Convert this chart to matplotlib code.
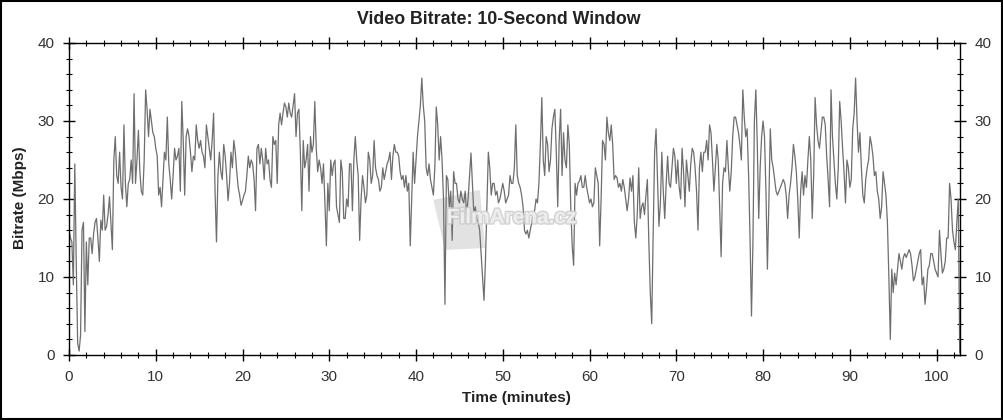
import numpy as np
import matplotlib.pyplot as plt
import matplotlib.patheffects as pe
from matplotlib.patches import Rectangle, Polygon

plt.rcParams['font.family'] = ['Liberation Sans', 'DejaVu Sans']

# bitrate in Mbps, one reading every 10 seconds in chunks
bitrate_00_13 = [16, 15, 14.5, 9, 24.5, 12, 1.5, 0.5, 2.5, 16,
                 17, 3, 14.5, 9, 15, 15, 13, 15.5, 17, 17.5,
                 15, 12, 17.3, 16, 20.5, 16, 16.5, 18, 20.3, 17,
                 13.5, 25, 28, 23, 22, 26, 21.5, 20, 29.5, 22,
                 19, 22, 22.5, 25, 22, 33.5, 22, 25, 28.8, 23.5,
                 21, 20.5, 25, 34, 31.5, 28, 31.5, 30, 28.5, 28,
                 26.5, 25.5, 20.5, 21.5, 19, 22.5, 26, 25, 30.5, 24.5,
                 22.5, 20, 23, 26.5, 25, 25.5, 26.5]
bitrate_13_26 = [21, 32.5, 27.5, 20.5, 28, 29, 28, 26, 23.5, 25.5,
                 25, 29.5, 27.5, 26.5, 27.5, 26, 25.5, 24, 29.5, 28,
                 26.5, 25, 27.5, 31, 21, 14.5, 23, 26, 23.5, 22.5,
                 27, 25.5, 23, 19.8, 22, 26, 24, 27.5, 26, 23.5,
                 21.5, 20.5, 19.2, 19.8, 20.5, 21, 23, 25.5, 24, 25,
                 24.5, 22.5, 18.5, 26.5, 27, 24.5, 26.5, 25, 22.5, 26.5,
                 24.5, 25, 22.5, 21.5, 28, 27, 27.5, 22, 29.5, 31,
                 29.5, 31, 32.3, 31.8, 30.5, 32.3, 31, 30.5, 32]
bitrate_26_39 = [33.5, 28, 31, 31.5, 26, 18.5, 27.5, 24, 25, 27,
                 21, 28, 26, 27, 32.5, 26.5, 23.5, 25, 24, 22,
                 24.5, 19.5, 14, 22, 18.5, 25, 23, 24.5, 25, 19,
                 18, 17, 25, 23.5, 17.5, 17.5, 20, 19, 24.5, 24.5,
                 18.5, 25, 28, 25, 23, 14.7, 20, 23, 21.5, 19.5,
                 20.5, 26, 25, 22, 23, 27.5, 24, 23, 22.5, 21,
                 21.5, 24, 22.5, 23.5, 24.5, 25, 26, 22.5, 25.5, 27,
                 26, 26, 25.5, 23.5, 22.5, 23, 21.5, 23, 21, 22]
bitrate_39_52 = [14, 20, 26, 22, 25, 28, 30, 32, 35.5, 32,
                 30, 24, 23, 24.5, 22.5, 21.5, 20.5, 24, 31.8, 29.5,
                 25, 28, 25, 20, 6.5, 23, 22.5, 19, 21, 14.7,
                 23.5, 22, 22, 20, 19.5, 21, 20, 19.5, 21, 18,
                 20, 23, 25.9, 22, 18, 19, 17.5, 17, 16, 13,
                 10, 7, 12, 19, 26, 24, 20.5, 22, 22, 20.5,
                 21, 19.5, 20, 21, 22, 21, 19.5, 20, 20.5, 23,
                 22, 22, 24, 29.5, 23, 22, 21.5, 20.5, 19]
bitrate_52_66 = [16, 15.5, 16, 15, 16, 17, 18, 18.5, 20, 19.5,
                 22, 27, 33, 25, 23, 28, 27, 23.5, 25, 29,
                 30.5, 31.5, 26, 19, 27.5, 31.5, 23, 28.5, 25, 24,
                 29.5, 27, 19, 14, 11.5, 22, 20.5, 22, 22.3, 23,
                 21.5, 21.5, 23, 21.5, 20.5, 19.5, 20, 19, 19.5, 24,
                 23, 22, 14, 20, 27.5, 27, 25, 30.5, 28.5, 27.5,
                 29.5, 27, 22.5, 23, 22.7, 21.5, 22, 21, 22.5, 21.5,
                 20, 18.5, 20, 22.7, 21, 23, 17, 15, 18, 24]
bitrate_66_79 = [17.5, 19, 19.5, 18, 20.5, 22.5, 14.5, 8, 4, 15.5,
                 26, 29, 22.5, 16.5, 19.5, 26, 21, 17.5, 22, 25.5,
                 22, 21.5, 24, 26.5, 25.5, 22, 25, 21.5, 20, 26.5,
                 23.5, 19, 25, 23, 21, 24.5, 26.5, 26, 24, 21,
                 16, 24, 26, 23.5, 26, 26, 27.5, 25, 29.5, 28.5,
                 25, 21, 24, 27, 25, 19, 12.6, 22, 24, 23.5,
                 27.5, 24, 21, 23.5, 28, 30.5, 30.5, 29.5, 28.5, 27,
                 25, 34, 30.5, 28, 29, 23, 15, 5, 14.5]
bitrate_79_92 = [30, 34, 27, 17.5, 24, 28, 30, 28, 21, 11,
                 19.5, 29, 25, 24, 22.5, 21, 20.5, 21, 21.5, 22,
                 22.5, 22, 20.5, 17.5, 20.5, 22, 24, 27, 25.5, 23.5,
                 20, 15, 21, 23.5, 20.5, 23, 21.5, 25, 28, 25,
                 17.5, 23, 33, 29.5, 27.5, 26.5, 28.5, 30.5, 30.5, 29.5,
                 25.5, 22.5, 19, 34, 28, 25, 22, 20, 24, 32.5,
                 30, 26.5, 23.5, 19.5, 25, 24, 21.5, 22.5, 29, 31,
                 35.5, 30, 26, 28.5, 24, 20.5, 19.5, 22.5, 24, 25]
bitrate_92_end = [28, 27, 25.5, 23, 23.5, 21, 20, 17.5, 19, 23.5,
                  22, 20.5, 17, 10, 2, 11, 8, 10.5, 9, 11,
                  13, 12, 11, 12.5, 13, 12.5, 13, 13.5, 13, 11.5,
                  9.5, 10, 11, 12, 13, 13.5, 9, 10, 6.5, 8.5,
                  11, 11.5, 13, 13, 12, 11, 10.5, 10, 16, 13,
                  10.5, 11, 12, 15, 15, 22, 20, 16, 14.5, 13.5,
                  17, 20, 0.3]

bitrate = np.array(bitrate_00_13 + bitrate_13_26 + bitrate_26_39 + bitrate_39_52
                   + bitrate_52_66 + bitrate_66_79 + bitrate_79_92 + bitrate_92_end)
minutes = np.arange(len(bitrate)) / 6.0

x_ticks = list(range(0, 101, 10))
y_ticks = list(range(0, 41, 10))

fig = plt.figure(figsize=(10.04, 4.2), dpi=100)
ax = fig.add_axes([69/1004, 1-355/420, (960-69)/1004, (355-43)/420])

# faint watermark: clapper shape under the trace, lettering over it
ax.add_patch(Polygon([(0.409, 0.497), (0.461, 0.529), (0.467, 0.343), (0.422, 0.337)],
                     closed=True, transform=ax.transAxes, fc='#e2e2e2', ec='none', zorder=1))
ax.plot(minutes, bitrate, color='#6e6e6e', lw=0.9, zorder=2)
ax.text(0.497, 0.44, 'FilmArena.cz', transform=ax.transAxes, ha='center', va='center',
        fontsize=15, fontweight='bold', color='#f4f4f4', alpha=0.85, zorder=3,
        path_effects=[pe.withStroke(linewidth=2.2, foreground='#cdcdcd')])

ax.set_xlim(0, 102.7)
ax.set_ylim(0, 40)
ax.set_xticks(x_ticks)
ax.set_xticks(np.arange(0, 103, 2), minor=True)
ax.set_yticks(y_ticks)
ax.set_yticks(range(0, 41, 2), minor=True)
ax.tick_params(which='both', direction='inout', top=True, right=True, labelright=True,
               labelsize=11, labelcolor='#333333', pad=6)
ax.tick_params(which='major', length=9, width=1)
ax.tick_params(which='minor', length=4, width=0.8)
for s in ax.spines.values():
    s.set_linewidth(1)

fig.text(0.497, 1-20/420, 'Video Bitrate: 10-Second Window', ha='center', va='center',
         fontsize=12.8, fontweight='bold', color='#222222')
fig.text(516/1004, 1-398/420, 'Time (minutes)', ha='center', va='center',
         fontsize=11, fontweight='bold', color='#222222')
fig.text(20/1004, 1-198/420, 'Bitrate (Mbps)', ha='center', va='center', rotation=90,
         fontsize=11, fontweight='bold', color='#222222')

fig.add_artist(Rectangle((0.001, 0.002), 0.997, 0.995, transform=fig.transFigure,
                         fill=False, ec='black', lw=1.5))

fig.savefig('out.png', dpi=100)
